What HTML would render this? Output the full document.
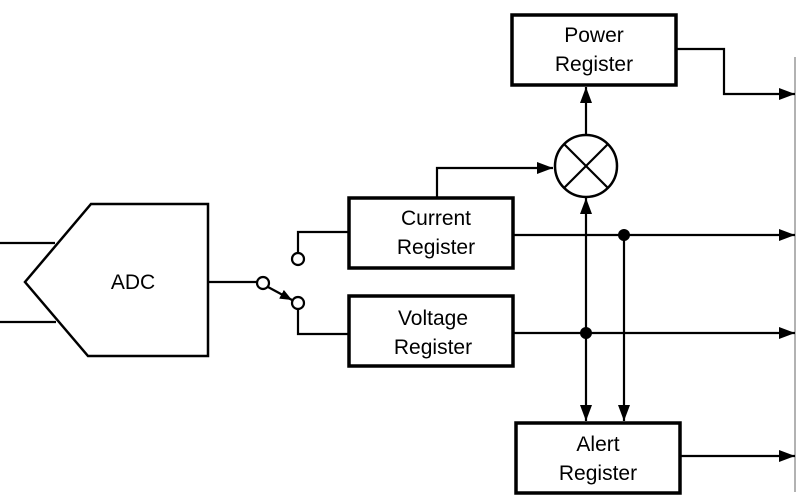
<!DOCTYPE html>
<html><head><meta charset="utf-8"><style>html,body{margin:0;padding:0;background:#fff}svg{display:block}</style></head>
<body>
<svg width="796" height="500" viewBox="0 0 796 500" xmlns="http://www.w3.org/2000/svg">
<defs>
<marker id="a" viewBox="0 0 12 10" refX="12" refY="5" markerWidth="12" markerHeight="10" markerUnits="userSpaceOnUse" orient="auto"><path d="M0,0 L12,5 L0,10 z" fill="#000"/></marker>
<marker id="b" viewBox="0 0 16 12" refX="16" refY="6" markerWidth="16" markerHeight="12" markerUnits="userSpaceOnUse" orient="auto"><path d="M0,0 L16,6 L0,12 z" fill="#000"/></marker>
</defs>
<g fill="none" stroke="#000" stroke-width="2.2">
<line x1="795" y1="57" x2="795" y2="492" stroke="#999" stroke-width="1.5"/>
<polygon points="91,204 208,204 208,356 88,356 25,282" stroke-width="2.5"/>
<line x1="0" y1="243" x2="55" y2="243"/>
<line x1="0" y1="322" x2="56" y2="322"/>
<line x1="208" y1="282" x2="257" y2="282"/>
<circle cx="263" cy="283" r="6" fill="#fff"/>
<line x1="268" y1="287" x2="292" y2="300" marker-end="url(#a)"/>
<circle cx="298" cy="303" r="6" fill="#fff"/>
<circle cx="298" cy="259" r="6" fill="#fff"/>
<polyline points="298,253 298,232 349,232"/>
<polyline points="298,309 298,334 349,334"/>
<rect x="349" y="198" width="164" height="70" stroke-width="3.5"/>
<rect x="349" y="296" width="164" height="70" stroke-width="3.5"/>
<rect x="512" y="15" width="164" height="70" stroke-width="3.5"/>
<rect x="516" y="423" width="164" height="70" stroke-width="3.5"/>
<circle cx="586" cy="166" r="31" stroke-width="2.5"/>
<line x1="564" y1="144" x2="608" y2="188"/>
<line x1="608" y1="144" x2="564" y2="188"/>
<line x1="586" y1="135" x2="586" y2="87" marker-end="url(#b)"/>
<polyline points="437,197 437,168 553,168" marker-end="url(#b)"/>
<line x1="586" y1="334" x2="586" y2="198" marker-end="url(#b)"/>
<line x1="586" y1="334" x2="586" y2="421" marker-end="url(#b)"/>
<line x1="624" y1="235" x2="624" y2="421" marker-end="url(#b)"/>
<polyline points="677,49 724,49 724,94 795,94" marker-end="url(#b)"/>
<line x1="513" y1="235" x2="795" y2="235" marker-end="url(#b)"/>
<line x1="513" y1="333" x2="795" y2="333" marker-end="url(#b)"/>
<line x1="681" y1="456" x2="795" y2="456" marker-end="url(#b)"/>
</g>
<circle cx="624" cy="235" r="6" fill="#000"/>
<circle cx="586" cy="333" r="6" fill="#000"/>
<g font-family="Liberation Sans, sans-serif" font-size="21" text-anchor="middle" fill="#000">
<text x="436" y="225">Current</text><text x="436" y="254">Register</text>
<text x="433" y="325">Voltage</text><text x="433" y="354">Register</text>
<text x="594" y="42">Power</text><text x="594" y="71">Register</text>
<text x="598" y="451">Alert</text><text x="598" y="480">Register</text>
<text x="133" y="289">ADC</text>
</g>
</svg>
</body></html>
